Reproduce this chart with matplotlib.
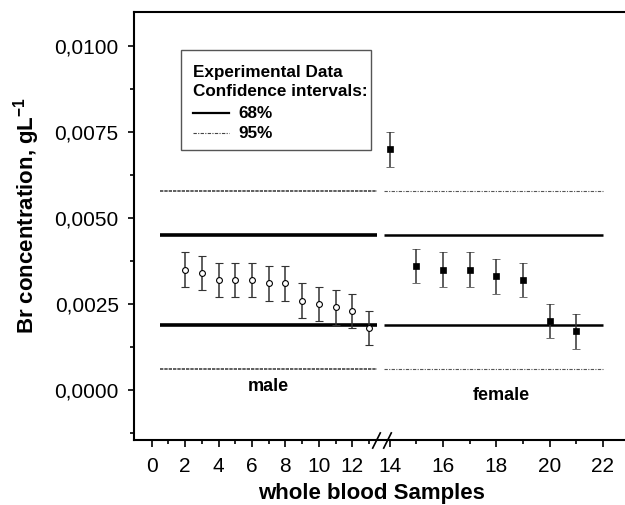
import numpy as np
import matplotlib
matplotlib.use("Agg")
import matplotlib.pyplot as plt
from matplotlib.ticker import FixedLocator, FuncFormatter
from matplotlib.transforms import blended_transform_factory
from matplotlib.lines import Line2D
from matplotlib.patches import Rectangle

plt.rcParams['font.family'] = ['Liberation Sans', 'DejaVu Sans']
plt.rcParams['mathtext.fontset'] = 'custom'
plt.rcParams['mathtext.rm'] = 'Liberation Sans:bold'
plt.rcParams['mathtext.bf'] = 'Liberation Sans:bold'
plt.rcParams['mathtext.default'] = 'bf'

# ---------------- data ----------------
male_x = [2, 3, 4, 5, 6, 7, 8, 9, 10, 11, 12, 13]
male_y = [0.0035, 0.0034, 0.0032, 0.0032, 0.0032, 0.0031, 0.0031,
          0.0026, 0.0025, 0.0024, 0.0023, 0.0018]
male_err = [0.0005] * 12

female_x = [14, 15, 16, 17, 18, 19, 20, 21]
female_y = [0.0070, 0.0036, 0.0035, 0.0035, 0.0033, 0.0032, 0.0020, 0.0017]
female_err = [0.0005] * 8

ci68 = [0.0019, 0.0045]
ci95 = [0.0006, 0.0058]
male_range = [0.5, 13.45]
female_range = [13.8, 22.0]

xticks_major = [0, 2, 4, 6, 8, 10, 12, 14, 16, 18, 20, 22]
xticks_minor = [1, 3, 5, 7, 9, 11, 13, 15, 17, 19, 21]
yticks_major = [0.0, 0.0025, 0.0050, 0.0075, 0.0100]
yticks_minor = [-0.00125, 0.00125, 0.00375, 0.00625, 0.00875]

# ---------------- broken x scale ----------------
BRK = 13.61
K = 1.595

def fwd(x):
    x = np.asarray(x, dtype=float)
    return np.where(x <= BRK, x, BRK + K * (x - BRK))

def inv(u):
    u = np.asarray(u, dtype=float)
    return np.where(u <= BRK, u, BRK + (u - BRK) / K)

W, H = 625, 505
fig = plt.figure(figsize=(W / 100, H / 100), dpi=100)
ax = fig.add_axes([134 / W, 65 / H, 1 - 134 / W, (440 - 12) / H])
ax.set_xscale('function', functions=(fwd, inv))
ax.set_xlim(-1.06, 22.83)
ax.set_ylim(-0.00146, 0.0110)

# CI lines
for yv in ci68:
    ax.plot(male_range, [yv, yv], color='black', lw=2.6, solid_capstyle='butt')
    ax.plot(female_range, [yv, yv], color='black', lw=1.8, solid_capstyle='butt')
for yv in ci95:
    ax.plot(male_range, [yv, yv], color='#444444', lw=1.2,
            linestyle=(0, (2.0, 0.6)))
    ax.plot(female_range, [yv, yv], color='#555555', lw=0.8,
            linestyle=(0, (3, 1.2, 1, 1.2)))

# data
ax.errorbar(male_x, male_y, yerr=male_err, fmt='o', ms=4.2, mfc='white',
            mec='black', mew=0.8, ecolor='#333333', elinewidth=1.1,
            capsize=3, capthick=1.1, zorder=5)
ax.errorbar(female_x, female_y, yerr=female_err, fmt='s', ms=4, mfc='black',
            mec='black', mew=0.5, ecolor='#333333', elinewidth=1.1,
            capsize=3, capthick=1.1, zorder=5)

# spines
ax.spines['right'].set_visible(False)
for s in ['left', 'bottom', 'top']:
    ax.spines[s].set_linewidth(1.5)

ax.xaxis.set_major_locator(FixedLocator(xticks_major))
ax.xaxis.set_minor_locator(FixedLocator(xticks_minor))
ax.yaxis.set_major_locator(FixedLocator(yticks_major))
ax.yaxis.set_minor_locator(FixedLocator(yticks_minor))
ax.xaxis.set_major_formatter(FuncFormatter(lambda v, p: f"{v:.0f}"))
ax.yaxis.set_major_formatter(FuncFormatter(lambda v, p: f"{v:.4f}".replace('.', ',')))
ax.tick_params(axis='both', which='major', direction='out', width=1.2,
               labelsize=15)
ax.tick_params(axis='x', which='major', length=5, pad=7.5)
ax.tick_params(axis='x', which='minor', length=3, width=1.2)
ax.tick_params(axis='y', which='major', length=4.5, pad=6.5)
ax.tick_params(axis='y', which='minor', length=3, width=1.2)
ax.tick_params(top=False, right=False, which='both')

# break marks
bt = blended_transform_factory(ax.transData, ax.transAxes)
for xc in [13.42, 13.89]:
    ax.plot([xc], [0], transform=bt, marker=[(-0.5, -1), (0.5, 1)],
            markersize=12, mew=1.2, color='black', clip_on=False, zorder=10)

# group labels
ax.text(7.0, 0.0001, 'male', ha='center', va='center', fontsize=13,
        fontweight='bold')
ax.text(18.2, -0.00015, 'female', ha='center', va='center', fontsize=13,
        fontweight='bold')

# axis labels
fig.text(27 / W, 1 - 215 / H, r'Br concentration, gL$^{-1}$', rotation=90,
         ha='center', va='center', fontsize=16, fontweight='bold')
fig.text(372 / W, 1 - 494 / H, 'whole blood Samples', ha='center',
         va='center', fontsize=16, fontweight='bold')

# legend box (manual)
fig.add_artist(Rectangle((181 / W, 1 - 150 / H), (371 - 181) / W, 100 / H,
                         transform=fig.transFigure, fill=False,
                         edgecolor='#555555', lw=1.0))
fig.text(193 / W, 1 - 72 / H, 'Experimental Data', ha='left', va='center',
         fontsize=12.3, fontweight='bold')
fig.text(193 / W, 1 - 92 / H, 'Confidence intervals:', ha='left', va='center',
         fontsize=12.3, fontweight='bold')
fig.text(238 / W, 1 - 113 / H, '68%', ha='left', va='center',
         fontsize=12.3, fontweight='bold')
fig.text(238 / W, 1 - 133 / H, '95%', ha='left', va='center',
         fontsize=12.3, fontweight='bold')
fig.add_artist(Line2D([193 / W, 229 / W], [1 - 113 / H, 1 - 113 / H],
                      transform=fig.transFigure, color='black', lw=1.6))
fig.add_artist(Line2D([193 / W, 229 / W], [1 - 133 / H, 1 - 133 / H],
                      transform=fig.transFigure, color='#444444', lw=0.8,
                      linestyle=(0, (3, 1.2, 1, 1.2))))

fig.savefig('out.png', dpi=100)
